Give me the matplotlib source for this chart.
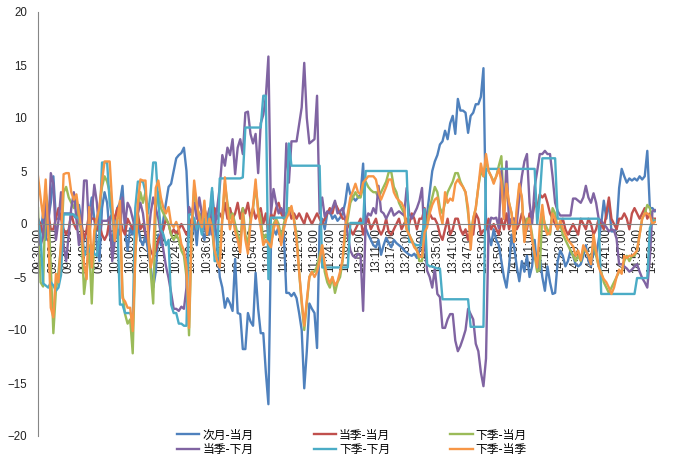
"""
Intraday spread chart: six calendar spreads, one point per minute.
"""

import matplotlib

matplotlib.use("Agg")
import matplotlib.pyplot as plt

TICK_LABELS = [
    "09:30:00", "09:36:00", "09:42:00", "09:48:00", "09:54:00", "10:00:00",
    "10:06:00", "10:12:00", "10:18:00", "10:24:00", "10:30:00", "10:36:00",
    "10:42:00", "10:48:00", "10:54:00", "11:00:00", "11:06:00", "11:12:00",
    "11:18:00", "11:24:00", "11:30:00", "13:05:00", "13:11:00", "13:17:00",
    "13:23:00", "13:29:00", "13:35:00", "13:41:00", "13:47:00", "13:53:00",
    "13:59:00", "14:05:00", "14:11:00", "14:17:00", "14:23:00", "14:29:00",
    "14:35:00", "14:41:00", "14:47:00", "14:53:00", "14:59:00",
]

# 次月-当月
NEXT_M = [
    0.2, -0.8, 1.0, -1.5, 0.5, 2.0,
    4.5, 0.5, 0.5, 0.5, 1.0, 1.0,
    1.0, 1.0, 0.8, 0.5, 1.8, 0.2,
    -3.0, -2.5, 1.0, 2.5, 0.5, -2.0,
    -3.5, 1.5, 3.0, 2.0, -1.0, -2.0,
    0.5, 1.5, 2.0, 3.6, -0.5, -2.5,
    -0.4, -1.0, 1.0, 0.0, -1.5, -2.0,
    -1.0, -2.5, -4.0, -6.0, -4.5, -1.0,
    -2.0, 0.5, 2.0, 3.5, 3.8, 5.0,
    6.2, 6.5, 6.7, 7.2, 5.0, -0.5,
    -1.5, 0.5, -2.0, 1.0, -0.5, -1.5,
    0.0, -1.0, 3.1, 0.5, -2.0, -5.0,
    -6.0, -7.9, -7.0, -7.5, -8.2, -3.3,
    -8.4, -8.5, -11.8, -11.8, -8.4, -9.2,
    -9.6, -4.6, -8.0, -10.3, -10.3, -14.0,
    -17.0, -1.8, -0.5, -1.0, -0.2, -1.4,
    -0.8, -6.5, -6.5, -6.8, -6.5, -7.0,
    -8.4, -10.0, -15.5, -12.0, -7.5, -8.0,
    -8.4, -11.7, -0.2, 0.5, -0.5, 1.0,
    1.2, 0.5, 0.8, 0.3, 0.6, 1.0,
    2.0, 3.8, 2.8, 2.5, 2.2, 2.5,
    2.8, 5.7, -0.4, -1.0, -1.5, -2.0,
    -2.2, -1.5, -2.9, -2.0, -1.3, -1.8,
    -2.2, -1.5, -1.8, -2.0, -2.2, -2.5,
    -2.7, -2.9, -3.0, -2.8, -3.2, -2.5,
    -1.0, 0.0, 1.0, 3.0, 5.0, 5.9,
    6.5, 7.5, 7.8, 8.8, 8.0, 9.5,
    10.2, 8.5, 11.8, 10.7, 10.7, 10.5,
    8.6, 10.2, 10.5, 11.3, 11.3, 12.0,
    14.7, 0.3, -1.0, -2.0, -0.5, -1.5,
    -2.0, -3.5, -5.0, -6.0, -4.0, -1.0,
    -2.2, -4.0, -5.4, -3.5, -4.5, -3.0,
    -5.0, -4.0, -1.5, -4.5, -3.0, -5.0,
    -6.3, -4.0, -5.5, -6.6, -6.5, -3.5,
    -2.5, -3.0, -4.0, -3.5, -2.5, -3.0,
    -3.8, -4.0, -3.8, -3.0, -2.0, -3.5,
    -4.0, -2.5, -3.0, -1.5, 0.0, 2.2,
    0.5, 2.2, -0.7, -0.7, -0.5, 3.4,
    5.2, 4.5, 3.9, 4.3, 4.1, 4.3,
    4.1, 4.5, 4.2, 4.5, 6.9, 1.5,
    1.5, 1.2,
]

# 当季-当月
THIS_Q = [
    0.5, 0.0, -1.0, 0.5, 1.0, -0.5,
    -0.5, 0.5, 1.5, 0.5, -0.5, -1.0,
    -0.5, 1.0, 0.0, -0.5, 0.5, 0.0,
    -1.5, -0.5, 1.0, 0.5, 0.5, -0.5,
    0.0, -1.0, -1.5, -1.0, 0.5, 1.0,
    0.5, 1.5, 0.5, -0.5, -1.0, 0.5,
    0.0, -0.5, 0.5, 1.0, -0.5, 0.0,
    -1.0, -1.5, -2.5, -3.0, -2.5, -1.5,
    -1.0, -0.5, 0.5, 0.0, -1.0, -0.5,
    -1.0, -0.5, 0.0, -0.5, -1.0, -0.5,
    0.5, 0.0, -0.5, 1.0, 0.5, 1.5,
    0.5, 1.0, 0.0, 1.5, 0.5, 1.0,
    0.5, 2.0, 0.5, 1.5, 0.5, 1.0,
    2.0, 0.5, 1.5, 1.0, 2.0, 0.5,
    1.5, 0.5, 1.0, 1.5, 0.0, 1.0,
    -1.0, 1.0, 0.5, 1.5, 2.0, 1.0,
    0.5, 1.0, 1.5, 0.5, 1.0, 0.5,
    1.0, 0.5, 0.0, 1.0, 0.5, 0.0,
    0.5, 1.0, 0.5, 0.0, 0.5, 1.0,
    1.5, 1.0, 2.0, 1.5, 1.0, 0.5,
    0.5, 0.0, -0.5, -1.0, -0.5, 0.0,
    0.5, -1.0, 0.0, 0.5, -0.5, 0.0,
    0.5, -0.5, -1.0, -0.5, 0.5, -0.8,
    -1.0, -0.5, 0.0, 0.5, -0.5, 0.0,
    0.5, 0.0, 1.0, 0.5, -0.5, 0.5,
    0.5, 1.5, 0.0, 1.0, 0.5, 0.5,
    0.0, -1.0, -1.5, -0.5, 0.5, -1.0,
    -0.5, 0.5, 0.5, -0.5, -1.0, -0.5,
    -1.5, -0.5, -1.0, 1.0, 0.5, -1.0,
    -0.6, -0.5, 0.5, -0.5, 0.0, -0.5,
    -1.0, 0.5, -0.5, 1.0, -0.5, 0.5,
    0.5, -0.5, 0.0, 1.0, 0.5, -0.5,
    1.0, 0.5, 2.0, 1.5, 2.8, 2.5,
    2.8, 2.0, 1.0, 0.5, 0.0, -0.5,
    0.0, 0.5, -0.5, -1.0, -0.5, 0.0,
    -0.5, -1.0, 0.5, 0.0, -0.5, 0.5,
    0.0, -1.0, -0.5, 0.5, 0.0, -0.5,
    1.0, 2.5, 0.5, 0.0, -0.5, 0.5,
    0.5, 1.0, 0.5, -0.5, 1.0, 1.5,
    1.0, 0.5, 1.0, 1.5, 0.5, 1.0,
    0.5, 0.5,
]

# 下季-当月
NEXT_Q = [
    1.5, -5.5, -5.9, 3.0, 1.5, -4.0,
    -10.3, -6.3, -4.5, -2.0, 3.0, 3.5,
    2.5, 2.0, 1.5, 2.5, 0.5, -1.0,
    -6.6, -4.5, -2.0, -7.5, -1.0, 0.5,
    1.5, 3.5, 4.5, 4.0, 3.0, 1.0,
    -1.5, 0.5, 1.0, -6.5, -8.5, -9.4,
    -9.0, -12.2, -3.0, 1.0, 3.0, 2.0,
    3.0, 0.0, -4.5, -7.5, 1.5, 3.0,
    1.5, 1.0, 0.5, 0.0, -1.0, -1.5,
    -1.0, -1.5, -2.5, -3.0, -5.0, -10.5,
    -1.0, 3.5, 1.5, 1.0, -0.5, 1.5,
    0.0, 0.8, -0.5, -3.0, -3.0, -3.0,
    0.5, 3.8, 2.0, 0.5, 1.0, 0.0,
    -1.0, -2.0, 1.5, -1.0, -2.0, 0.5,
    1.5, 3.5, 1.5, 0.5, -1.5, -1.0,
    -1.5, -2.0, 0.0, 0.5, 0.0, -1.5,
    0.0, 1.0, 1.5, 1.5, 0.5, -1.0,
    -4.5, -7.5, -10.0, -7.5, -5.0, -4.5,
    -4.5, -4.0, -3.0, -2.0, -4.5, -5.5,
    -6.0, -5.0, -6.5, -5.5, -5.0, -3.5,
    -1.0, 0.5, 2.0, 2.5, 3.0, 2.5,
    2.5, 3.5, 4.0, 3.5, 3.2, 3.0,
    3.0, 2.5, 3.0, 3.5, 4.0, 4.9,
    4.9, 3.5, 3.0, 2.0, 1.5, 1.0,
    -0.5, -1.0, -1.5, -2.0, -2.5, -3.5,
    -3.5, -1.0, 0.0, 1.5, 2.5, 3.5,
    3.0, 1.5, 1.0, 2.0, 3.0, 3.5,
    4.0, 4.8, 4.8, 4.0, 3.5, 3.0,
    1.0, -1.0, 0.5, 1.5, 3.5, 5.0,
    4.5, 6.0, 5.0, 4.5, 4.0, 4.5,
    5.5, 6.4, 1.5, 3.0, 2.0, 1.0,
    -1.0, 1.0, 3.5, 2.5, -1.5, 0.5,
    0.5, -1.0, -3.0, -4.5, -4.3, 1.0,
    0.0, -0.5, -1.0, 1.5, 1.0, -0.5,
    0.0, -1.0, -1.5, -2.0, -2.5, -3.0,
    -3.5, -3.0, -3.5, -2.5, -2.5, -3.0,
    -3.5, -1.5, -3.0, -4.0, -4.5, -5.5,
    -6.0, -6.5, -6.0, -5.5, -5.0, -4.5,
    -4.5, -3.5, -3.0, -3.5, -3.0, -3.0,
    -2.5, -1.0, 0.5, 1.0, 1.8, 1.5,
    0.5, 0.3,
]

# 当季-下月
THIS_Q_NEXT_M = [
    0.5, -2.0, -1.2, 2.5, -1.0, 4.8,
    3.8, -1.5, 0.3, 3.0, -2.0, -3.5,
    -1.0, 1.5, 3.0, 0.5, -2.0, -0.5,
    4.1, 4.1, -1.0, 1.0, 3.7, 2.0,
    -1.0, 0.3, 0.3, 0.3, 0.6, -3.5,
    -1.5, -0.5, -1.0, 2.5, 0.0, 2.0,
    1.5, 0.5, -0.5, 1.0, 2.0, 1.0,
    -1.0, -1.5, 1.0, 2.5, 1.5, 0.5,
    -1.0, -2.5, -4.0, -5.1, -6.5, -8.0,
    -8.0, -8.2, -7.8, -8.0, -6.0, 1.6,
    1.0, 2.0, 0.5, 2.5, 1.0, -0.5,
    0.5, 1.5, -1.0, -0.5, 1.5, 3.5,
    6.5, 5.5, 7.2, 6.5, 8.0, 4.7,
    7.2, 8.0, 6.6, 10.5, 10.6, 8.5,
    7.6, 8.5, 4.8, 9.5, 10.3, 12.0,
    15.8, 1.0, 3.3, 2.0, 1.0, 1.5,
    0.8, 7.6, 3.9, 7.8, 7.8, 7.8,
    9.4, 11.0, 15.2, 10.0, 7.6, 7.8,
    8.0, 12.1, 1.0, 2.5, 0.7, 1.2,
    1.0, 1.5, 2.2, 1.0, 1.2, 1.5,
    0.5, -1.0, -2.5, -3.0, -3.2, -2.8,
    -3.0, -8.2, 0.3, 1.0, 0.8, 1.5,
    1.0, 3.6, 1.2, 1.0, 0.5, 1.0,
    1.5, 0.8, 1.0, 1.2, 1.0, 0.8,
    3.4, 1.0, 0.5, 1.0, 1.5, 2.2,
    3.4, -1.7, -4.4, -5.0, -6.0, -4.2,
    -6.6, -6.9, -9.8, -9.8, -9.0, -8.5,
    -8.5, -11.0, -12.0, -11.5, -10.8, -10.0,
    -8.0, -8.5, -9.0, -11.3, -12.0, -14.0,
    -15.3, -12.7, -0.4, 0.6, 0.5, 0.6,
    -0.4, 5.0, 0.5, 5.9, 0.1, 0.5,
    0.5, 0.0, 2.5, 4.5, 5.9, 6.6,
    2.0, 0.0, 3.5, 5.0, 6.6, 6.6,
    6.9, 6.6, 6.6, 4.5, 2.0, 1.2,
    0.8, 0.8, 0.8, 0.8, 0.8, 2.4,
    2.4, 2.2, 2.0, 2.5, 3.6, 2.5,
    2.0, 2.9, 2.0, 0.5, 0.3, 0.0,
    -0.3, -0.7, -0.5, -0.6, -1.4, -3.8,
    -3.8, -4.0, -4.2, -4.5, -4.3, -4.0,
    -3.8, -4.5, -5.1, -5.5, -6.0, -3.2,
    1.2, 1.3,
]

# 下季-下月
NEXT_Q_NEXT_M = [
    0.5, -1.0, -5.6, -5.8, -6.0, -5.5,
    -5.8, -6.3, -6.0, -4.8, 0.9, 0.9,
    0.9, 0.9, 0.9, 0.6, 0.6, -0.5,
    -3.0, -2.6, -2.6, -2.0, -2.8, -3.0,
    -1.0, 5.8, 5.8, 5.8, 2.0, 0.5,
    -1.0, 0.3, -7.6, -7.6, -8.4, -8.4,
    -8.4, -9.0, 1.5, 4.0, 4.0, 4.0,
    3.0, 1.0, 3.0, 5.8, 5.8, 2.0,
    -0.5, -1.0, -2.0, -1.5, -7.6, -8.4,
    -8.4, -9.4, -9.4, -9.6, -9.6, 0.9,
    0.9, 0.5, -0.5, 0.2, -1.0, 0.5,
    -0.3, 1.0, 3.4, -3.5, -3.5, 4.3,
    4.3, 4.3, 4.3, 4.3, 4.3, 4.3,
    4.3, 4.3, 4.4, 9.1, 9.1, 9.1,
    9.1, 9.1, 9.1, 9.1, 12.1, 12.1,
    -5.2, 0.6, 0.6, 0.6, 0.6, 0.6,
    0.6, 0.6, 7.6, 5.5, 5.5, 5.5,
    5.5, 5.5, 5.5, 5.5, 5.5, 5.5,
    5.5, 5.5, 5.5, -4.1, -4.1, -4.1,
    -4.1, -4.1, -4.1, -4.1, -4.1, -4.1,
    -4.1, -4.1, 0.1, 0.1, 0.1, 0.1,
    0.1, 0.1, 5.0, 5.0, 5.0, 5.0,
    5.0, 5.0, 5.0, 5.0, 5.0, 5.0,
    5.0, 5.0, 5.0, 5.0, 5.0, 5.0,
    5.0, -1.7, -1.7, -1.9, -2.0, -2.0,
    -2.0, 1.4, -3.8, -4.0, -4.0, -4.1,
    -4.2, -4.2, -7.1, -7.1, -7.1, -7.1,
    -7.1, -7.1, -7.1, -7.1, -7.1, -7.1,
    -7.1, -9.7, -9.7, -9.7, -9.7, -9.7,
    -9.7, 5.2, 5.2, 5.2, 5.2, 5.2,
    5.2, 5.2, 5.2, 5.2, 5.2, 5.2,
    5.2, 5.2, 5.2, 5.2, 5.2, 5.2,
    5.2, 5.2, 5.2, 0.0, 2.5, 6.2,
    6.2, 6.2, 6.2, 6.2, 6.2, 0.5,
    0.5, 0.5, 0.5, 0.5, 0.5, 0.5,
    0.5, 0.5, 0.5, 0.5, 0.5, 0.5,
    0.5, 0.5, 0.5, 0.5, -6.6, -6.6,
    -6.6, -6.6, -6.6, -6.6, -6.6, -6.6,
    -6.6, -6.6, -6.6, -6.6, -6.6, -6.6,
    -5.1, -5.1, -5.1, -5.1, -5.1, -0.4,
    0.3, 0.3,
]

# 下季-当季
NEXT_Q_THIS_Q = [
    4.5, 2.5, 0.6, 4.2, -1.0, -7.9,
    -8.8, -4.7, -5.5, -1.7, 4.7, 4.8,
    4.8, 3.0, 2.3, 2.8, 1.0, -0.6,
    -3.8, -5.2, 1.6, -4.1, -0.6, 0.5,
    1.6, 4.0, 5.9, 5.9, 5.9, 1.9,
    -1.6, 0.4, 2.2, -7.0, -7.3, -7.9,
    -7.9, -10.1, -3.0, 2.0, 4.2, 4.1,
    4.1, -1.1, -4.1, -3.0, 3.4, 4.1,
    2.5, 1.5, 1.0, 1.6, 0.0, -0.3,
    0.2, -0.5, -1.9, -2.5, -4.0, -9.8,
    -0.5, 4.1, 2.0, 0.5, -0.3, 2.2,
    -1.0, 0.5, -0.3, -2.5, -3.5, -4.1,
    0.6, 4.4, 1.5, -0.5, 0.8, -0.7,
    -1.5, -2.7, 1.0, -1.5, -2.8, 0.0,
    1.7, 4.2, 1.0, -0.3, -2.0, -1.5,
    -1.8, -2.2, -0.5, 0.3, -0.5, -2.0,
    -0.5, 0.5, 1.0, 1.7, 0.3, -1.5,
    -4.5, -7.2, -9.6, -7.2, -5.0, -4.5,
    -5.0, -4.5, -3.5, -2.0, -3.8, -5.0,
    -5.6, -5.0, -5.8, -5.4, -4.5, -3.3,
    -0.2, 1.0, 2.5, 3.1, 3.8, 3.0,
    2.8, 3.9, 4.2, 4.5, 4.5, 4.5,
    4.2, 3.0, 2.3, 2.9, 3.5, 4.2,
    4.2, 3.0, 2.5, 2.2, 2.0, 1.5,
    -0.5, -1.0, -1.6, -2.2, -2.5, -3.1,
    -3.1, -0.8, -0.3, 1.0, 1.8, 2.3,
    2.5, 1.0, 0.0, 3.0, 2.0, 2.4,
    2.2, 3.8, 4.2, 3.8, 3.5, 3.0,
    1.5, -2.4, 0.5, 1.5, 3.5, 5.7,
    4.5, 6.6, 5.0, 4.5, 3.8, 4.5,
    5.2, 4.0, 0.5, 3.8, 2.0, 1.0,
    -1.7, 1.5, 3.8, 2.5, -1.7, 0.0,
    0.5, -1.5, -2.8, -4.1, -0.2, 1.8,
    -0.4, -1.0, -0.8, 1.0, 0.5, -0.5,
    0.3, -0.4, -1.0, -1.5, -1.8, -2.1,
    -3.0, -2.5, -3.4, -2.0, -2.5, -3.0,
    -3.8, -1.0, -2.5, -4.0, -4.7, -5.2,
    -5.5, -6.0, -6.6, -6.0, -5.0, -4.3,
    -4.7, -3.0, -3.2, -3.0, -3.0, -2.8,
    -2.5, -1.0, 0.5, 1.0, 1.0, 0.8,
    0.0, 0.2,
]

# label, values, colour -- drawn in this order (Excel series order)
SERIES = [
    ("次月-当月", NEXT_M, "#4F81BD"),
    ("当季-当月", THIS_Q, "#C0504D"),
    ("下季-当月", NEXT_Q, "#9BBB59"),
    ("当季-下月", THIS_Q_NEXT_M, "#8064A2"),
    ("下季-下月", NEXT_Q_NEXT_M, "#4BACC6"),
    ("下季-当季", NEXT_Q_THIS_Q, "#F79646"),
]

plt.rcParams["font.family"] = ["Liberation Sans", "Noto Sans CJK SC", "DejaVu Sans"]


def main() -> None:
    n = len(NEXT_M)
    for _, values, _ in SERIES:
        assert len(values) == n, len(values)

    fig = plt.figure(figsize=(6.73, 4.59), dpi=100)
    ax = fig.add_axes([38 / 673, 1 - 436 / 459, 618 / 673, 424 / 459])

    handles = {}
    xs = list(range(n))
    for label, values, color in SERIES:
        (line,) = ax.plot(xs, values, color=color, lw=1.7, label=label,
                          solid_joinstyle="round")
        handles[label] = line

    ax.set_xlim(0, n - 0.6)
    ax.set_ylim(-20, 20)
    ax.set_yticks(range(-20, 21, 5))

    for side in ("top", "right"):
        ax.spines[side].set_visible(False)
    ax.spines["bottom"].set_position(("data", 0))
    ax.spines["bottom"].set_color("#868686")
    ax.spines["left"].set_color("#868686")

    ax.set_xticks(range(0, n - 1, 6))
    ax.set_xticklabels(TICK_LABELS, rotation=90, va="top", ha="center")
    ax.tick_params(axis="x", length=0, pad=3, labelsize=8.3, colors="#222222")
    ax.tick_params(axis="y", length=0, pad=8, labelsize=8.3, colors="#222222")

    # matplotlib fills legend columns first, so reorder to get row-wise layout
    order = ["次月-当月", "当季-下月", "当季-当月", "下季-下月", "下季-当月", "下季-当季"]
    fig.legend(
        [handles[k] for k in order],
        order,
        loc="center",
        bbox_to_anchor=(0.523, 0.036),
        ncol=3,
        frameon=False,
        prop={"family": ["Noto Sans CJK SC"], "size": 8.5},
        handlelength=1.9,
        handletextpad=0.25,
        columnspacing=5.1,
        labelspacing=0.15,
        borderpad=0,
    )

    fig.savefig("out.png", dpi=100)


if __name__ == "__main__":
    main()
